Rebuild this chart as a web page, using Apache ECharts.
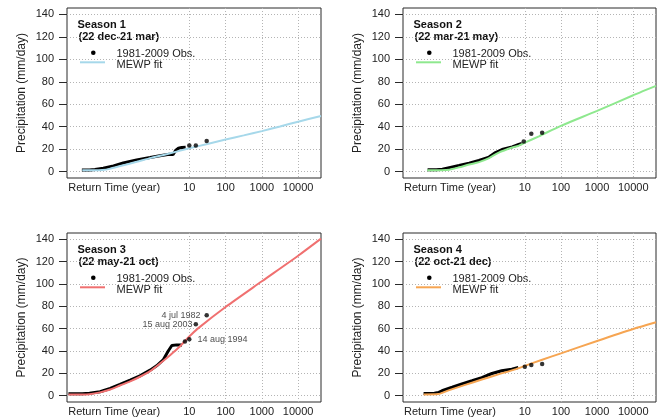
<!DOCTYPE html>
<html><head><meta charset="utf-8">
<script src="https://cdn.jsdelivr.net/npm/echarts@6/dist/echarts.min.js"></script>
<style>html,body{margin:0;padding:0;background:#fff}#c{width:659px;height:420px}</style>
</head><body><div id="c"></div>
<script>
// ---- data (x = log10 of return time in years, y = precipitation mm/day) ----
const seasonNames = ["Season 1", "Season 2", "Season 3", "Season 4"];
const seasonPeriods = ["(22 dec-21 mar)", "(22 mar-21 may)", "(22 may-21 oct)", "(22 oct-21 dec)"];
const obsLegend = "1981-2009 Obs.";
const fitLegend = "MEWP fit";
const xTickValues = [1, 2, 3, 4];           // 10, 100, 1000, 10000 years
const xAxisTitle = "Return Time (year)";
const yTickValues = [0, 20, 40, 60, 80, 100, 120, 140];
const yAxisTitle = "Precipitation (mm/day)";

const obsPath1 = [[-1.96,1.6],[-1.75,1.6],[-1.6,2.0],[-1.37,3.1],[-1.09,5.2],[-0.82,7.7],[-0.45,10.5],[-0.08,12.6],[0.19,14.2],[0.45,15.6],[0.55,15.2],[0.6,16.5],[0.63,19.2],[0.70,20.8],[0.79,21.5],[0.9,21.7]];
const obsPts1 = [[1.0,23.2],[1.18,23.2],[1.48,27.2]];
const fit1 = [[-1.95,1.2],[-1.6,1.2],[-1.4,1.5],[-1.2,2.5],[-0.9,5.0],[-0.45,8.8],[-0.05,12.3],[0.4,15.8],[1.0,20.8],[1.5,24.7],[2.0,28.6],[2.5,32.3],[3.0,36.1],[3.5,40.2],[4.0,44.5],[4.63,49.6]];

const obsPath2 = [[-1.69,1.8],[-1.45,1.8],[-1.28,2.2],[-1.09,3.6],[-0.82,5.5],[-0.54,7.6],[-0.27,10.0],[0.01,13.0],[0.19,17.0],[0.37,19.7],[0.65,22.1],[0.83,24.2],[0.92,25.2]];
const obsPts2 = [[0.97,26.8],[1.18,33.8],[1.48,34.6]];
const fit2 = [[-1.7,1.2],[-1.3,1.3],[-1.09,1.8],[-0.82,3.9],[-0.54,6.4],[-0.27,8.5],[0.01,12.1],[0.28,17.0],[0.65,21.5],[0.82,23.0],[1.0,25.8],[1.39,31.5],[2.0,40.8],[3.0,54.1],[4.0,68.0],[4.63,76.3]];

const obsPath3 = [[-2.33,1.8],[-1.95,1.8],[-1.75,2.3],[-1.46,3.6],[-1.18,6.5],[-0.91,10.1],[-0.63,14.0],[-0.36,17.8],[-0.08,22.9],[0.10,26.8],[0.28,32.0],[0.42,40.0],[0.52,45.0],[0.65,45.5],[0.8,45.5]];
const obsPts3 = [[0.88,48.5],[1.0,50.5],[1.18,64.0],[1.48,72.0]];
const obsNotes3 = ["", "14 aug 1994", "15 aug 2003", "4 jul 1982"];
const fit3 = [[-2.33,1.0],[-1.95,1.0],[-1.75,1.3],[-1.46,3.0],[-1.18,5.6],[-0.91,9.2],[-0.63,12.8],[-0.36,17.0],[-0.08,22.0],[0.19,28.8],[0.47,36.3],[0.74,44.0],[1.0,53.0],[1.25,60.5],[2.0,79.4],[3.0,102.4],[4.0,125.3],[4.63,140.6]];

const obsPath4 = [[-1.8,2.0],[-1.5,2.2],[-1.38,3.0],[-1.29,4.5],[-1.01,7.6],[-0.74,10.6],[-0.46,13.4],[-0.19,16.2],[0.09,19.9],[0.36,22.3],[0.64,23.8],[0.82,25.3]];
const obsPts4 = [[1.0,26.0],[1.18,27.5],[1.48,28.4]];
const fit4 = [[-1.8,1.2],[-1.4,1.5],[-1.11,4.8],[-0.65,9.7],[-0.19,14.5],[0.27,19.1],[0.73,23.6],[1.0,26.7],[1.46,32.0],[2.0,37.9],[3.0,49.0],[4.0,59.7],[4.63,65.7]];

const obsPaths = [obsPath1, obsPath2, obsPath3, obsPath4];
const obsPts = [obsPts1, obsPts2, obsPts3, obsPts4];
const fits = [fit1, fit2, fit3, fit4];
const obsNotes = [[], [], obsNotes3, []];

// ---- styling / layout ----
const fitColors = ["#a6d8ea", "#8ee88e", "#f07070", "#f6a552"];
const FONT = "'Liberation Sans', Arial, sans-serif";
const TXT = "#222";
const panels = [
  {left: 67, top: 8, width: 254, height: 170},
  {left: 403, top: 8, width: 253, height: 170},
  {left: 67, top: 233, width: 254, height: 169},
  {left: 403, top: 233, width: 253, height: 169}
];
const noteStyle = {
  "14 aug 1994": {position: "right", distance: 6},
  "15 aug 2003": {position: "left", distance: 1},
  "4 jul 1982": {position: "left", distance: 4}
};

const grid = [], xAxis = [], yAxis = [], series = [], graphic = [];
panels.forEach((p, i) => {
  grid.push({left: p.left, top: p.top, width: p.width, height: p.height,
    show: true, borderColor: "#2a2a2a", borderWidth: 1, backgroundColor: "transparent"});
  xAxis.push({
    type: "value", gridIndex: i, min: -2.37, max: 4.63, position: "bottom",
    axisLine: {show: false, onZero: false},
    axisTick: {show: false, customValues: xTickValues},
    splitLine: {show: true, lineStyle: {color: "#b4b4b4", type: [1, 2], width: 1}},
    axisLabel: {
      customValues: [-1.07].concat(xTickValues),
      formatter: v => v < 0 ? xAxisTitle : String(Math.round(Math.pow(10, v))),
      fontSize: 11, fontFamily: FONT, color: TXT, margin: 4
    }
  });
  yAxis.push({
    type: "value", gridIndex: i, min: -5.6, max: 145.6, position: "left",
    name: yAxisTitle, nameLocation: "middle", nameGap: 39,
    nameTextStyle: {fontSize: 12, fontFamily: FONT, color: TXT},
    axisLine: {show: false, onZero: false},
    axisTick: {show: true, inside: false, length: 8, customValues: yTickValues, lineStyle: {color: "#2a2a2a"}},
    splitLine: {show: true, lineStyle: {color: "#b4b4b4", type: [1, 2], width: 1}},
    axisLabel: {customValues: yTickValues, fontSize: 11, fontFamily: FONT, color: TXT, margin: 13}
  });
  series.push({
    type: "line", xAxisIndex: i, yAxisIndex: i, data: obsPaths[i], name: obsLegend,
    symbol: "none", lineStyle: {color: "#000", width: 3}, z: 2, silent: true
  });
  series.push({
    type: "line", xAxisIndex: i, yAxisIndex: i, data: fits[i], name: fitLegend, smooth: 0.25,
    symbol: "none", lineStyle: {color: fitColors[i], width: 2}, z: 3, silent: true
  });
  series.push({
    type: "scatter", xAxisIndex: i, yAxisIndex: i, name: obsLegend, z: 4, silent: true,
    symbol: "circle", symbolSize: 4.5, itemStyle: {color: "#000"},
    data: obsPts[i].map((d, k) => {
      const note = obsNotes[i][k];
      if (!note) return d;
      const st = noteStyle[note];
      return {value: d, label: {show: true, formatter: note, position: st.position, distance: st.distance,
        fontSize: 9, fontFamily: FONT, color: TXT}};
    })
  });
  // legend block
  graphic.push({type: "group", x: p.left, y: p.top, children: [
    {type: "text", x: 10.5, y: 17, style: {text: seasonNames[i], font: "bold 11px " + FONT, fill: "#111", verticalAlign: "middle"}},
    {type: "text", x: 11.5, y: 28.7, style: {text: seasonPeriods[i], font: "bold 11px " + FONT, fill: "#111", verticalAlign: "middle"}},
    {type: "circle", shape: {cx: 26.3, cy: 44.7, r: 2.3}, style: {fill: "#000"}},
    {type: "text", x: 49.5, y: 46.3, style: {text: obsLegend, font: "11px " + FONT, fill: TXT, verticalAlign: "middle"}},
    {type: "line", shape: {x1: 13, y1: 54.3, x2: 38, y2: 54.3}, style: {stroke: fitColors[i], lineWidth: 2}},
    {type: "text", x: 49.5, y: 57, style: {text: fitLegend, font: "11px " + FONT, fill: TXT, verticalAlign: "middle"}}
  ]});
});

const chart = echarts.init(document.getElementById("c"), null, {renderer: "canvas"});
chart.setOption({animation: false, backgroundColor: "#fff", grid, xAxis, yAxis, series, graphic});
</script></body></html>
